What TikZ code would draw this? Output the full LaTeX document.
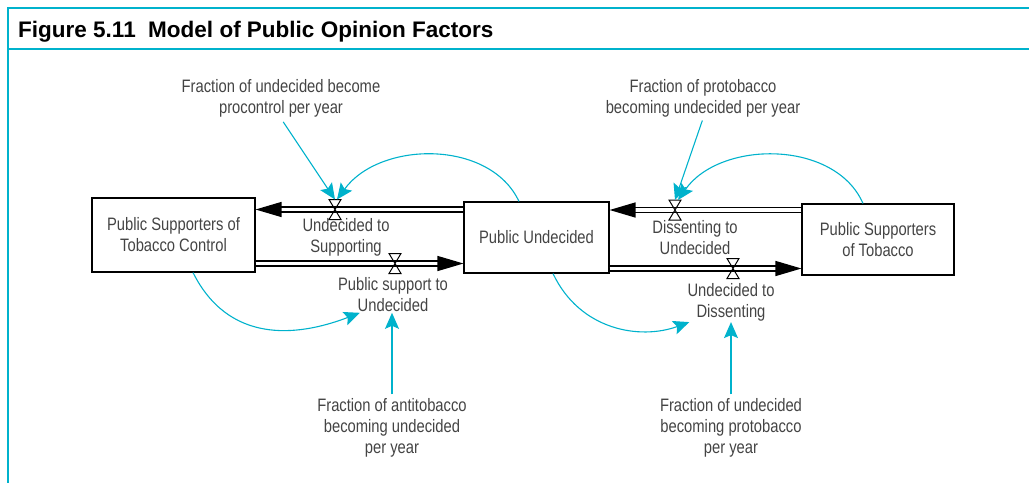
\documentclass[tikz,border=0pt]{standalone}
\usepackage{fontspec}
\setmainfont{Liberation Sans}
\newfontfamily\flowfont[FakeStretch=0.82]{Liberation Sans}
\usetikzlibrary{positioning}
\usetikzlibrary{arrows.meta}
\definecolor{figcyan}{RGB}{0,178,204}
\definecolor{labelgray}{RGB}{68,68,68}

\begin{document}
\begin{tikzpicture}[x=1pt,y=1pt]

\tikzset{stock box/.style={
		draw, line width=1.1pt,
		minimum width=#1,
		minimum height=71pt,
		align=center,
		inner sep=0pt,
		text=labelgray,
		font=\flowfont\fontsize{18}{21}\selectfont
	},
	stock box/.default=145pt,
	flow label/.style={align=center, inner sep=1pt, text=labelgray,
		font=\flowfont\fontsize{18}{21}\selectfont},
	pipe/.style={line width=1.3pt, double distance=3.7pt,
		-{Triangle[length=26pt,width=15pt]}},
	link/.style={figcyan, line width=1.1pt,
		-{Stealth[length=16pt,width=14pt,inset=3pt]}},
	valve/.pic={\draw[line width=1pt] (-6,10)--(6,10)--(-6,-10)--(6,-10)--cycle;}
}
\useasboundingbox (0,0) rectangle (1029,-483);

% frame and title
\draw[figcyan, line width=2pt] (7,-8) -- (1029,-8);
\draw[figcyan, line width=2pt] (7,-48.5) -- (1029,-48.5);
\draw[figcyan, line width=2pt] (8.3,-7) -- (8.3,-483);
\node[anchor=base west, inner sep=0pt, font=\bfseries\fontsize{22.5}{26}\selectfont] (title) at (18,-37.3) {Figure 5.11\ \ Model of Public Opinion Factors};

% stocks
\node[stock box=163pt, minimum height=74pt] (lft) at (173.5,-235) {Public Supporters of\\Tobacco Control};
\node[stock box] (mid) at (536.5,-237.5) {Public Undecided};
\node[stock box=152pt] (rgt) at (878,-239.5) {Public Supporters\\of Tobacco};

% valves
\coordinate (v1) at (335,-209.5);
\coordinate (v2) at (395,-263.5);
\coordinate (v3) at (675,-210);
\coordinate (v4) at (733,-268.5);

% flows
\draw[pipe] (mid.west |- v1) -- (lft.east |- v1);
\draw[pipe] (lft.east |- v2) -- (mid.west |- v2);
\draw[pipe] (rgt.west |- v3) -- (mid.east |- v3);
\draw[pipe] (mid.east |- v4) -- (rgt.west |- v4);
\foreach \v in {v1,v2,v3,v4}
	\pic at (\v) {valve};

\node[flow label] (lUS) at (346,-237.5) {Undecided to\\Supporting};
\node[flow label] (lPU) at (393,-294.5) {Public support to\\Undecided};
\node[flow label] (lDU) at (695,-237.5) {Dissenting to\\Undecided};
\node[flow label] (lUD) at (731,-302) {Undecided to\\Dissenting};

% rates
\node[flow label] (fA) at (281,-98.5) {Fraction of undecided become\\procontrol per year};
\node[flow label] (fB) at (703,-98.5) {Fraction of protobacco\\becoming undecided per year};
\node[flow label] (fC) at (392,-428) {Fraction of antitobacco\\becoming undecided\\per year};
\node[flow label] (fD) at (731,-428) {Fraction of undecided\\becoming protobacco\\per year};

% links
\draw[link, shorten <=4pt] (fA.south) -- ([yshift=10]v1);
\draw[link] ([xshift=-17.5]mid.north) .. controls +(-29,62) and +(43,59) .. ([xshift=2,yshift=10]v1);
\draw[link, shorten <=2pt] (fB.south) -- ([yshift=10]v3);
\draw[link] ([xshift=-15]rgt.north) .. controls +(-28,64) and +(42,60) .. ([xshift=3,yshift=10]v3);
\draw[link] ([xshift=19.5]lft.south) .. controls +(35,-70) and +(-65,-25) .. ([xshift=23]lPU.south west);
\draw[link, shorten <=3pt] (fC.north) -- (fC.north |- lPU.south);
\draw[link] ([xshift=16.5]mid.south) .. controls +(27,-57) and +(-49,-18) .. ([xshift=3]lUD.south west);
\draw[link, shorten <=3pt] (fD.north) -- (fD.north |- lUD.south);

\end{tikzpicture}
\end{document}
